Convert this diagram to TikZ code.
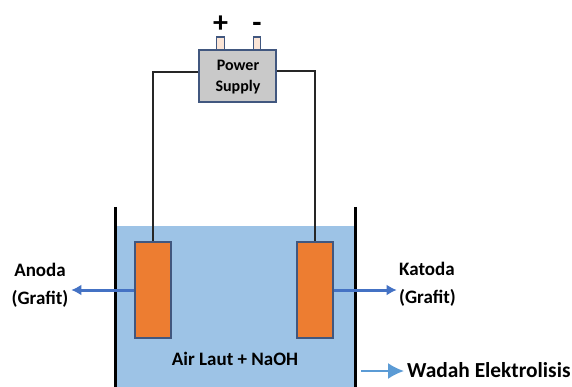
\documentclass[tikz,border=0pt]{standalone}
\usepackage{fontspec}
\setmainfont{Carlito}
\usetikzlibrary{arrows.meta, positioning, calc}
\definecolor{airlaut}{HTML}{9DC3E6}
\definecolor{grafit}{HTML}{ED7D31}
\definecolor{garis}{HTML}{41577F}
\definecolor{panah}{HTML}{4472C4}
\definecolor{panahwadah}{HTML}{5B9BD5}
\definecolor{kutub}{HTML}{FBE5D6}

\begin{document}
\begin{tikzpicture}[
    x=1pt, y=-1pt,
    % Node styles
    supply/.style={
        rectangle, minimum width=77pt, minimum height=52pt,
        inner sep=0pt, align=center, text depth=0pt,
        font=\bfseries\fontsize{16}{21}\selectfont,
        draw=garis, line width=1.3pt, fill=black!21,
    },
    terminal/.style={
        rectangle, minimum width=7.5pt, minimum height=13pt, inner sep=0pt,
        draw=garis, line width=1.3pt, fill=kutub,
    },
    sign/.style={
        font=\bfseries\fontsize{30}{30}\selectfont, inner sep=0pt,
    },
    water/.style={
        rectangle, minimum width=240pt, minimum height=161pt, inner sep=0pt,
        fill=airlaut,
    },
    electrode/.style={
        rectangle, minimum width=36pt, minimum height=96pt, inner sep=0pt,
        draw=garis, line width=1.3pt, fill=grafit,
    },
    label/.style={
        font=\bfseries\fontsize{19}{28}\selectfont, inner sep=0pt, align=#1,
    },
    label/.default=center,
    wire/.style={draw=black!85, line width=1.3pt},
    wall/.style={draw=black, line width=3pt},
    pointer/.style={
        draw=panah, line width=3pt, -{Latex[length=10pt, width=11pt]},
    },
]
\useasboundingbox (0,0) rectangle (572,387);

% === Wadah ===
\node[water] (air) at (235,306.5) {};
\coordinate (wall-l) at (115,207);
\coordinate (wall-r) at (355,207);
\draw[wall] (wall-l) -- (wall-l |- air.south);
\draw[wall] (wall-r) -- (wall-r |- air.south);

% === Elektroda ===
\node[electrode] (anoda)  at (153,290) {};
\node[electrode] (katoda) at (315,290) {};

% === Power supply ===
\node[supply] (ps) at (237.5,76) {};
\node[font=\bfseries\fontsize{16}{21}\selectfont, align=center, inner sep=0pt] (ps-text) at (238,77) {Power\\Supply};
\node[terminal] (plus)  at (220.5,43.5) {};
\node[terminal] (minus) at (257,43.5) {};
\node[sign, above=4pt of plus]  (sign-plus)  {+};
\node[sign, above=4pt of minus] (sign-minus) {-};

% === Kabel ===
\draw[wire] ([yshift=4pt]ps.west) -| (anoda.north);
\draw[wire] ([yshift=5pt]ps.east) -| (katoda.north);

% === Label ===
\node[label] (lbl-anoda) at (40,285) {Anoda\\(Grafit)};
\node[label=left, anchor=west] (lbl-katoda) at (399,284) {Katoda\\(Grafit)};
\node[label] (lbl-air) at (235,359) {Air Laut + NaOH};
\node[label, anchor=west, font=\bfseries\fontsize{21.4}{21}\selectfont] (lbl-wadah) at (407,370) {Wadah Elektrolisis};

% === Panah ===
\draw[pointer] (anoda.west) -- ++(-63,0);
\draw[pointer] (katoda.east) -- ++(63,0);
\coordinate (wadah-start) at (361,371);
\draw[draw=panahwadah, line width=2pt, -{Latex[length=16pt, width=16pt]}] (wadah-start) -- ([xshift=-3pt]lbl-wadah.west |- wadah-start);

\end{tikzpicture}
\end{document}
